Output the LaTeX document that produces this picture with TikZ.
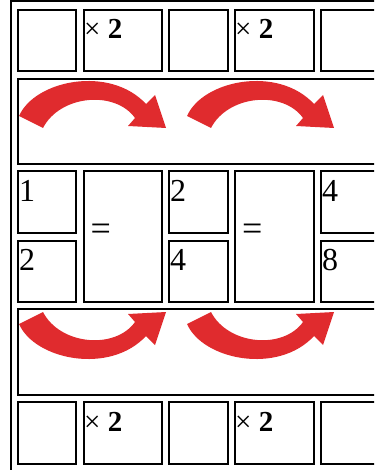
\documentclass[tikz,border=0pt]{standalone}
\usepackage{fontspec}
\setmainfont{Liberation Serif}
\definecolor{arrowred}{RGB}{224,43,46}
\begin{document}
\begin{tikzpicture}[x=1pt,y=-1pt,
  cell/.style={draw=black,line width=2pt,rectangle,inner sep=0pt,outer sep=0pt,anchor=north west},
  timestxt/.style={font=\fontsize{29}{34}\selectfont,inner sep=0pt,anchor=base west},
  bigtxt/.style={font=\fontsize{32}{38}\selectfont,inner sep=0pt,anchor=base west},
  eqtxt/.style={font=\fontsize{36}{42}\selectfont,inner sep=0pt,anchor=base west},
  redarrow/.style={fill=arrowred,draw=none}]
\useasboundingbox (0,0) rectangle (374,470);
\clip (0,0) rectangle (374,470);
% outer table border
\node[cell,minimum width=420pt,minimum height=520pt] (table) at (11,1) {};
% row 1
\node[cell,minimum width=58pt,minimum height=61pt] (r1c1) at (18,10) {};
\node[cell,minimum width=78pt,minimum height=61pt] (r1c2) at (84,10) {};
\node[cell,minimum width=59pt,minimum height=61pt] (r1c3) at (169,10) {};
\node[cell,minimum width=79pt,minimum height=61pt] (r1c4) at (235,10) {};
\node[cell,minimum width=80pt,minimum height=61pt] (r1c5) at (321,10) {};
% row 2 (arrows)
\node[cell,minimum width=400pt,minimum height=85pt] (r2) at (18,79) {};
% row 3
\node[cell,minimum width=58pt,minimum height=62pt] (r3c1a) at (18,171) {};
\node[cell,minimum width=58pt,minimum height=61pt] (r3c1b) at (18,241) {};
\node[cell,minimum width=78pt,minimum height=131pt] (r3c2) at (84,171) {};
\node[cell,minimum width=59pt,minimum height=62pt] (r3c3a) at (169,171) {};
\node[cell,minimum width=59pt,minimum height=61pt] (r3c3b) at (169,241) {};
\node[cell,minimum width=79pt,minimum height=131pt] (r3c4) at (235,171) {};
\node[cell,minimum width=80pt,minimum height=62pt] (r3c5a) at (321,171) {};
\node[cell,minimum width=80pt,minimum height=61pt] (r3c5b) at (321,241) {};
% row 4 (arrows)
\node[cell,minimum width=400pt,minimum height=86pt] (r4) at (18,309) {};
% row 5
\node[cell,minimum width=58pt,minimum height=62pt] (r5c1) at (18,402) {};
\node[cell,minimum width=78pt,minimum height=62pt] (r5c2) at (84,402) {};
\node[cell,minimum width=59pt,minimum height=62pt] (r5c3) at (169,402) {};
\node[cell,minimum width=79pt,minimum height=62pt] (r5c4) at (235,402) {};
\node[cell,minimum width=80pt,minimum height=62pt] (r5c5) at (321,402) {};
% texts
\node[timestxt] (t1) at (84,38.5) {× \textbf{2}};
\node[timestxt] (t2) at (235,38.5) {× \textbf{2}};
\node[timestxt] (t3) at (84,431) {× \textbf{2}};
\node[timestxt] (t4) at (235,431) {× \textbf{2}};
\node[bigtxt] (n1) at (19,201.5) {1};
\node[bigtxt] (n2) at (19,270.5) {2};
\node[bigtxt] (n3) at (170,201.5) {2};
\node[bigtxt] (n4) at (170,270.5) {4};
\node[bigtxt] (n5) at (322,201.5) {4};
\node[bigtxt] (n6) at (322,270.5) {8};
\node[eqtxt] (eq1) at (90.5,240) {=};
\node[eqtxt] (eq2) at (242,240) {=};
% arrows
\foreach \dx in {0,168}{
\begin{scope}[xshift=\dx pt]
\fill[redarrow] (19,116) .. controls (35,80) and (110,65) .. (146,104) -- (155,95) -- (166,128) -- (128,126) -- (135,118) .. controls (115,90) and (60,95) .. (43,128) -- cycle;
\fill[redarrow] (19,324) .. controls (35,360) and (110,375) .. (146,336) -- (155,345) -- (166,312) -- (128,314) -- (135,322) .. controls (115,350) and (60,345) .. (43,312) -- cycle;
\end{scope}}
\end{tikzpicture}
\end{document}
